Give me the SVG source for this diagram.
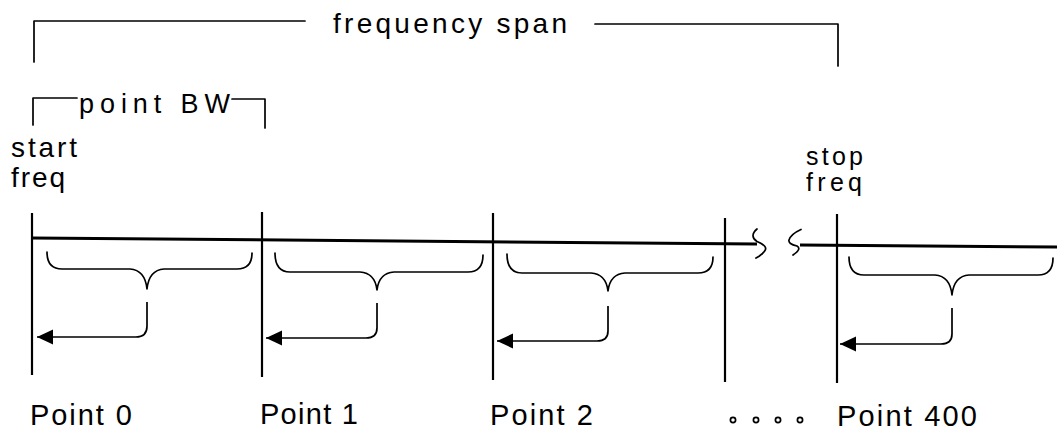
<svg xmlns="http://www.w3.org/2000/svg" width="1060" height="432" viewBox="0 0 1060 432">
<style>
.t{font-family:"Liberation Sans",Arial,sans-serif;fill:#000;}
.lbl{font-size:29px;}
.sm{font-size:28px;}
.sf{font-size:25px;}
.bw{font-size:27px;}
.thin{fill:none;stroke:#000;stroke-width:1.7;stroke-linecap:round;stroke-linejoin:round;}
.vert{fill:none;stroke:#000;stroke-width:2.2;}
.axis{fill:none;stroke:#000;stroke-width:3;}
.arr{fill:none;stroke:#000;stroke-width:1.7;marker-end:url(#ah);}
.dot{fill:none;stroke:#000;stroke-width:1.7;}
</style>
<defs>
<marker id="ah" markerUnits="userSpaceOnUse" markerWidth="18" markerHeight="16" refX="16" refY="7.5" orient="auto" viewBox="0 0 18 16">
<path d="M0,0 L16,7.5 L0,15 z" fill="#000"/>
</marker>
</defs>
<rect width="1060" height="432" fill="#fff"/>

<g id="connectors">
<path class="axis" d="M32,238 L757,244"/>
<path class="axis" d="M800,245 L1057,247"/>
<path class="thin" d="M757,229 Q749,236 757,241.5 Q768,246 765,250.5 Q762,255 756,258"/>
<path class="thin" d="M801,229.5 Q791,234 789,240 Q788,244 797,246 Q802,249 793,255"/>
</g>

<g id="frequency-span">
<path class="thin" d="M34,62 L34,21 L305,21"/>
<path class="thin" d="M595,24 L838,24 L838,66"/>
<text class="t sm" x="333" y="33" textLength="234" lengthAdjust="spacing">frequency span</text>
</g>

<g id="point-bw">
<path class="thin" d="M33,125 L33,98 L77,98"/>
<path class="thin" d="M232,99 L265,99 L265,128"/>
<text class="t bw" x="79" y="113" textLength="151" lengthAdjust="spacing">point BW</text>
</g>

<g id="start-freq">
<text class="t sm" x="11" y="157" textLength="66" lengthAdjust="spacing">start</text>
<text class="t sm" x="11" y="187" textLength="54" lengthAdjust="spacing">freq</text>
</g>

<g id="stop-freq">
<text class="t sf" x="806" y="165" textLength="57" lengthAdjust="spacing">stop</text>
<text class="t sf" x="806" y="191" textLength="56" lengthAdjust="spacing">freq</text>
</g>

<g id="point0">
<path class="vert" d="M32,213 L32,375"/>
<path class="thin" d="M47,252 Q47,269 62,269 L130,269 Q145,270 147,289 Q149,270 164,269 L237,269 Q252,269 252,253"/>
<path class="arr" d="M147,302 L147,326 Q147,337 136,337 L37,337"/>
<text class="t lbl" x="30" y="425" textLength="102" lengthAdjust="spacing">Point 0</text>
</g>

<g id="point1">
<path class="vert" d="M262,212 L262,377"/>
<path class="thin" d="M275,253 Q275,272 290,272 L360,272 Q375,273 377,290 Q379,273 394,272 L468,272 Q483,272 483,255"/>
<path class="arr" d="M377,303 L377,328 Q377,338 366,338 L266,338"/>
<text class="t lbl" x="260" y="424" textLength="98" lengthAdjust="spacing">Point 1</text>
</g>

<g id="point2">
<path class="vert" d="M493,213 L493,380"/>
<path class="thin" d="M507,254 Q507,273 522,273 L591,273 Q606,274 608,291 Q610,274 625,273 L698,273 Q713,273 713,257"/>
<path class="arr" d="M608,306 L608,331 Q608,341 597,341 L497,341"/>
<text class="t lbl" x="490" y="425" textLength="103" lengthAdjust="spacing">Point 2</text>
</g>

<g id="point-mid">
<path class="vert" d="M725,218 L725,382"/>
</g>

<g id="dots">
<circle class="dot" cx="733" cy="420" r="2.6"/>
<circle class="dot" cx="756" cy="420" r="2.6"/>
<circle class="dot" cx="778" cy="420" r="2.6"/>
<circle class="dot" cx="800" cy="420" r="2.6"/>
</g>

<g id="point400">
<path class="vert" d="M837,214 L837,383"/>
<path class="thin" d="M849,257 Q849,275 864,275 L935,275 Q950,276 952,295 Q954,276 969,275 L1038,275 Q1053,275 1053,258"/>
<path class="arr" d="M952,308 L952,334 Q952,344 941,344 L840,344"/>
<text class="t lbl" x="837" y="426" textLength="140" lengthAdjust="spacing">Point 400</text>
</g>
</svg>
